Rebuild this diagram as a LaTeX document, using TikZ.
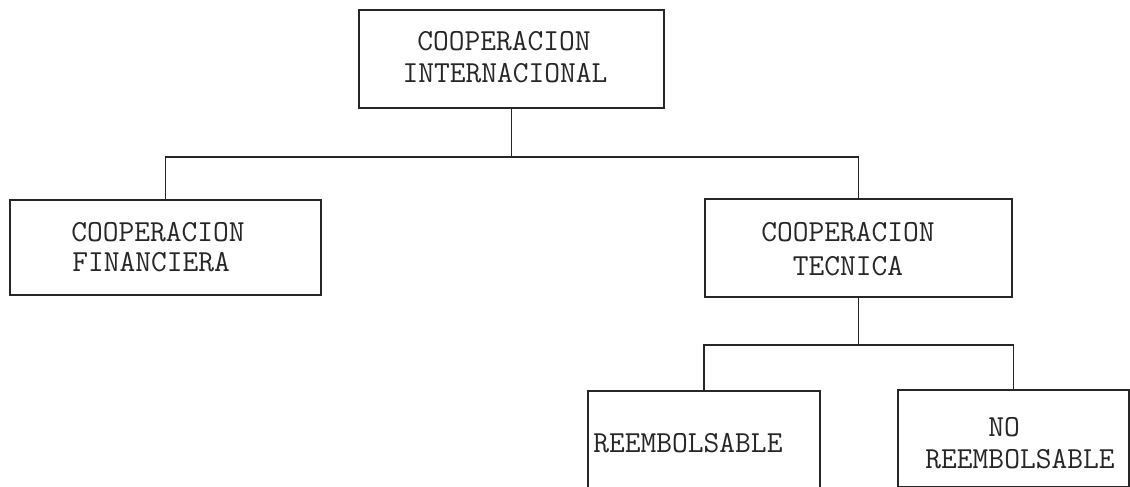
\documentclass[tikz,border=0pt]{standalone}
\begin{document}
\begin{tikzpicture}[x=0.5pt,y=-0.5pt,
  box/.style={draw=black!85, line width=0.9pt, rectangle, inner sep=0pt, anchor=north west},
  lbl/.style={font=\ttfamily\fontsize{15.3}{16}\selectfont, text=black!85, inner sep=0pt},
  conn/.style={draw=black!85, line width=0.9pt}]
\useasboundingbox (0,0) rectangle (1130,487);
% boxes
\node[box, minimum width=152.5pt, minimum height=49pt] (top) at (358,9) {};
\node[box, minimum width=155.5pt, minimum height=47.5pt] (fin) at (9,199) {};
\node[box, minimum width=153.5pt, minimum height=49pt] (tec) at (704,198) {};
\node[box, minimum width=116pt, minimum height=48.5pt] (reem) at (587,390) {};
\node[box, minimum width=115.5pt, minimum height=48.5pt] (noreem) at (897,389) {};
% texts
\node[lbl] (t1) at (504,41) {COOPERACION};
\node[lbl] (t2) at (505,73) {INTERNACIONAL};
\node[lbl, anchor=west] (f1) at (71,232) {COOPERACION};
\node[lbl, anchor=west] (f2) at (72,262) {FINANCIERA};
\node[lbl] (c1) at (848,232) {COOPERACION};
\node[lbl] (c2) at (848,266) {TECNICA};
\node[lbl, anchor=west] (r1) at (593,443) {REEMBOLSABLE};
\node[lbl] (n1) at (1004,427) {NO};
\node[lbl] (n2) at (1020,459) {REEMBOLSABLE};
% connectors
\draw[conn] (top.south) -- ++(0,48) coordinate (j1);
\draw[conn] (fin.north) |- (j1) -| (tec.north);
\draw[conn] (tec.south) -- ++(0,47) coordinate (j2);
\draw[conn] (reem.north) |- (j2) -| (noreem.north);
\end{tikzpicture}
\end{document}
